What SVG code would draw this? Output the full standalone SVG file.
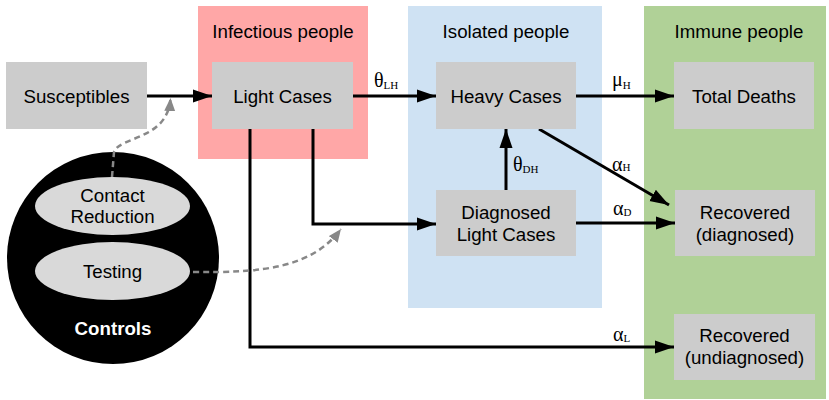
<svg xmlns="http://www.w3.org/2000/svg" width="829" height="400" viewBox="0 0 829 400">
  <style>
    .box { fill: #cccccc; }
    .lbl { font-family: "Liberation Sans", Arial, sans-serif; font-size: 18.7px; fill: #000; text-anchor: middle; }
    .grk { font-family: "Liberation Serif", "Times New Roman", serif; font-size: 20px; fill: #000; }
    .sub { font-size: 11px; }
    .flow { fill: none; stroke: #000; stroke-width: 3; }
    .ctrl { fill: none; stroke: #888888; stroke-width: 2.5; stroke-dasharray: 6 4; }
  </style>
  <defs>
    <marker id="arrow" markerUnits="userSpaceOnUse" markerWidth="20" markerHeight="14" refX="19" refY="7" orient="auto">
      <path d="M0,0.5 L19,7 L0,13.5 z" fill="#000"/>
    </marker>
    <marker id="arrowGray" markerUnits="userSpaceOnUse" markerWidth="14" markerHeight="12" refX="13" refY="6" orient="auto">
      <path d="M0,0.5 L13,6 L0,11.5 z" fill="#888888"/>
    </marker>
  </defs>

  <!-- compartment groups -->
  <g id="group-infectious">
    <rect x="198" y="6" width="170" height="153" fill="#ffa7a7"/>
    <text class="lbl" x="283" y="38">Infectious people</text>
  </g>
  <g id="group-isolated">
    <rect x="408" y="6" width="194" height="302" fill="#cfe2f3"/>
    <text class="lbl" x="506" y="38">Isolated people</text>
  </g>
  <g id="group-immune">
    <rect x="644" y="6" width="182" height="393" fill="#b0d197"/>
    <text class="lbl" x="739" y="38">Immune people</text>
  </g>

  <!-- connectors -->
  <g id="connectors">
    <path class="flow" d="M147,96 L212,96" marker-end="url(#arrow)"/>
    <path class="flow" d="M353,96 L436,96" marker-end="url(#arrow)"/>
    <path class="flow" d="M576,96 L674,96" marker-end="url(#arrow)"/>
    <path class="flow" d="M539,129 L669,205" marker-end="url(#arrow)"/>
    <path class="flow" d="M506,190 L506,129" marker-end="url(#arrow)"/>
    <path class="flow" d="M576,223 L675,223" marker-end="url(#arrow)"/>
    <path class="flow" d="M313,129 L313,224 L436,224" marker-end="url(#arrow)"/>
    <path class="flow" d="M250,129 L250,347 L674,347" marker-end="url(#arrow)"/>

    <text class="grk" x="374" y="87">θ<tspan class="sub" dy="2">LH</tspan></text>
    <text class="grk" x="612" y="86">μ<tspan class="sub" dy="3">H</tspan></text>
    <text class="grk" x="513" y="171">θ<tspan class="sub" dy="2">DH</tspan></text>
    <text class="grk" x="612" y="171">α<tspan class="sub" dy="0">H</tspan></text>
    <text class="grk" x="613" y="215">α<tspan class="sub" dy="1">D</tspan></text>
    <text class="grk" x="613" y="341">α<tspan class="sub" dy="1">L</tspan></text>
  </g>

  <!-- nodes -->
  <g id="susceptibles">
    <rect class="box" x="6" y="62" width="141" height="67"/>
    <text class="lbl" x="76.5" y="103">Susceptibles</text>
  </g>
  <g id="light-cases">
    <rect class="box" x="212" y="62" width="141" height="67"/>
    <text class="lbl" x="282.5" y="103">Light Cases</text>
  </g>
  <g id="heavy-cases">
    <rect class="box" x="436" y="62" width="140" height="67"/>
    <text class="lbl" x="506" y="103">Heavy Cases</text>
  </g>
  <g id="total-deaths">
    <rect class="box" x="674" y="62" width="140" height="67"/>
    <text class="lbl" x="744" y="103">Total Deaths</text>
  </g>
  <g id="diagnosed-light-cases">
    <rect class="box" x="436" y="190" width="140" height="66"/>
    <text class="lbl" x="506" y="219">Diagnosed</text>
    <text class="lbl" x="506" y="241">Light Cases</text>
  </g>
  <g id="recovered-diagnosed">
    <rect class="box" x="675" y="190" width="140" height="66"/>
    <text class="lbl" x="745" y="219">Recovered</text>
    <text class="lbl" x="745" y="241">(diagnosed)</text>
  </g>
  <g id="recovered-undiagnosed">
    <rect class="box" x="674" y="314" width="141" height="66"/>
    <text class="lbl" x="744.5" y="342">Recovered</text>
    <text class="lbl" x="744.5" y="364">(undiagnosed)</text>
  </g>

  <!-- controls -->
  <g id="controls">
    <circle cx="113" cy="258" r="106" fill="#000"/>
    <text class="lbl" x="113" y="335" style="fill:#fff;font-weight:bold">Controls</text>
  </g>
  <g id="contact-reduction">
    <ellipse cx="112.5" cy="206" rx="77.5" ry="29" fill="#d9d9d9"/>
    <text class="lbl" x="112.5" y="202">Contact</text>
    <text class="lbl" x="112.5" y="223">Reduction</text>
  </g>
  <g id="testing">
    <ellipse cx="112.5" cy="271" rx="77.5" ry="29" fill="#d9d9d9"/>
    <text class="lbl" x="112.5" y="278">Testing</text>
  </g>

  <!-- control influences -->
  <g id="control-connectors">
    <path class="ctrl" d="M112,177 L114,152 C120,136 168,140 170.5,98" marker-end="url(#arrowGray)"/>
    <path class="ctrl" d="M193,272 C262,273 312,268 341,229" marker-end="url(#arrowGray)"/>
  </g>
</svg>
